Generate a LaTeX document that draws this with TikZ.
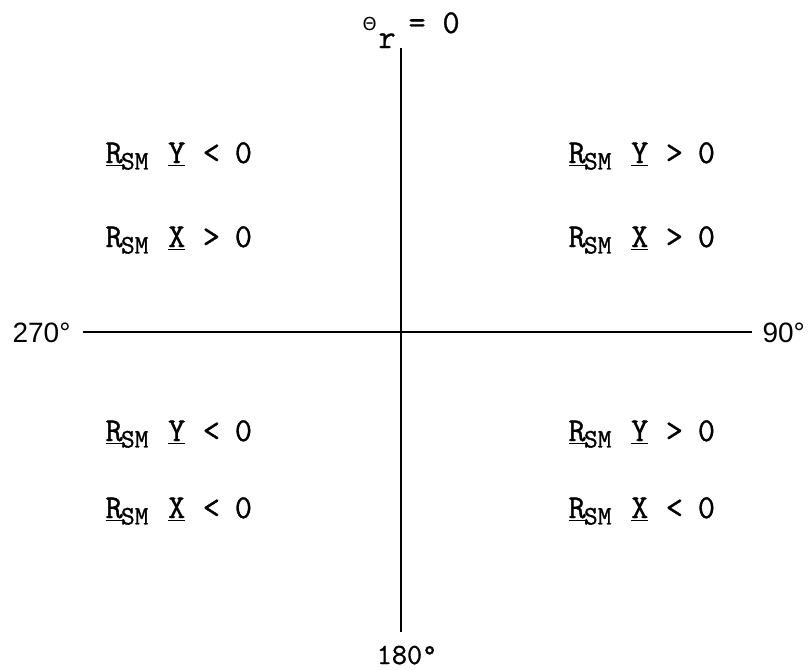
\documentclass[tikz,border=0pt]{standalone}
\usepackage{fontspec}
\newfontfamily\axisfont{Liberation Sans}
\newfontfamily\greekfont{DejaVu Sans}
\newfontfamily\typefont[FakeBold=1]{Latin Modern Mono}

\tikzset{every picture/.style={line width=0.75pt}}
\tikzset{
  qtext/.style={anchor=base west,inner sep=0pt,font=\fontsize{25}{29}\selectfont\typefont},
  axtext/.style={inner sep=0pt,font=\fontsize{21}{25}\selectfont\axisfont}
}
\newcommand{\rsub}{\kern-0.05em\raisebox{-0.45ex}{\fontsize{20}{20}\selectfont SM}}
\newcommand{\qline}[4]{\makebox[47pt][l]{#1\rsub}\makebox[26pt][l]{\underline{#2}}\makebox[24pt][l]{#3}#4}

\begin{document}
\begin{tikzpicture}[x=0.75pt,y=0.75pt,yscale=-1,xscale=1]
	\useasboundingbox (0,0) rectangle (812,669);
	
	% Axis ends
	\coordinate (top) at (401,48);
	\coordinate (bot) at (401,632);
	\coordinate (lft) at (83,332);
	\coordinate (rgt) at (752,332);
	%Straight Lines
	\draw [line width=1.2pt] (top) -- (bot) ;
	%Straight Lines
	\draw [line width=1.2pt] (lft) -- (rgt) ;
	
	% Text Node
	\node [qtext] (theta0) at (362,33) {\makebox[12pt][l]{\raisebox{2.25pt}{\greekfont\fontsize{13.4}{14}\selectfont Θ}}\makebox[22.5pt][l]{\raisebox{-11.25pt}{r}}\makebox[25.5pt][l]{=}0};
	% Text Node
	\node [axtext,anchor=base east] (deg270) at (71,342) {270°};
	% Text Node
	\node [axtext,anchor=base west] (deg90) at (762,342) {90°};
	% Text Node
	\node [qtext,anchor=base,font=\fontsize{22}{25}\selectfont\typefont] (deg180) at (407,664) {180°};
	
	% Text Node
	\node [qtext] (ulY) at (105,163) {\qline{\underline{R}}{Y}{<}{0}};
	% Text Node
	\node [qtext] (ulX) at (105,247) {\qline{R}{X}{>}{0}};
	% Text Node
	\node [qtext] (urY) at (568,163) {\qline{\underline{R}}{Y}{>}{0}};
	% Text Node
	\node [qtext] (urX) at (568,247) {\qline{R}{X}{>}{0}};
	% Text Node
	\node [qtext] (llY) at (105,441) {\qline{\underline{R}}{Y}{<}{0}};
	% Text Node
	\node [qtext] (llX) at (105,518) {\qline{\underline{R}}{X}{<}{0}};
	% Text Node
	\node [qtext] (lrY) at (568,441) {\qline{\underline{R}}{Y}{>}{0}};
	% Text Node
	\node [qtext] (lrX) at (568,518) {\qline{\underline{R}}{X}{<}{0}};
	
\end{tikzpicture}
\end{document}
